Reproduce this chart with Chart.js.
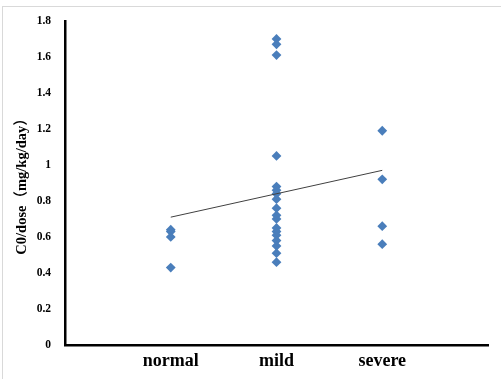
<!DOCTYPE html>
<html>
<head>
<meta charset="utf-8">
<script src="https://cdn.jsdelivr.net/npm/chart.js@4/dist/chart.umd.min.js"></script>
<style>
  html, body { margin: 0; padding: 0; background: #fff; }
  #wrap { position: relative; width: 501px; height: 379px; overflow: hidden; }
  #frame { position: absolute; left: 2px; top: 6px; width: 520px; height: 400px; border: 1px solid #d9d9d9; box-sizing: border-box; }
  canvas { position: absolute; left: 0; top: 0; }
</style>
</head>
<body>
<div id="wrap">
  <div id="frame"></div>
  <canvas id="chart" width="501" height="379"></canvas>
</div>
<script>
// 1. DATA
const categories = ['normal', 'mild', 'severe'];
const normalValues = [0.64, 0.63, 0.60, 0.43];
const mildValues = [1.70, 1.67, 1.61, 1.05, 0.88, 0.86, 0.84, 0.81, 0.76, 0.72, 0.70,
                    0.65, 0.63, 0.61, 0.58, 0.55, 0.51, 0.46];
const severeValues = [1.19, 0.92, 0.66, 0.56];
const trendValues = [0.71, 0.97];   // trendline at normal and severe
const yTicks = [0, 0.2, 0.4, 0.6, 0.8, 1, 1.2, 1.4, 1.6, 1.8];

// 2. BUILD POINTS
const groups = [normalValues, mildValues, severeValues];
const points = [];
groups.forEach((vals, i) => {
  vals.forEach(v => points.push({ x: i + 1, y: v }));
});
const trendPoints = [{ x: 1, y: trendValues[0] }, { x: 3, y: trendValues[1] }];

const serif = "'Liberation Serif', 'Times New Roman', 'Noto Sans CJK SC', serif";
const blue = '#4a7ebb';

new Chart(document.getElementById('chart').getContext('2d'), {
  type: 'scatter',
  data: {
    datasets: [
      {
        data: points,
        pointStyle: 'rectRot',
        pointRadius: 4.9,
        backgroundColor: blue,
        borderColor: blue,
        borderWidth: 0,
        order: 2
      },
      {
        type: 'line',
        data: trendPoints,
        borderColor: '#404040',
        borderWidth: 1,
        pointRadius: 0,
        fill: false,
        order: 1
      }
    ]
  },
  options: {
    responsive: false,
    animation: false,
    layout: { padding: { top: 19, right: 13, bottom: 0, left: 0 } },
    plugins: { legend: { display: false }, tooltip: { enabled: false } },
    scales: {
      x: {
        type: 'linear',
        min: 0,
        max: 4,
        afterBuildTicks: s => { s.ticks = categories.map((c, i) => ({ value: i + 1 })); },
        afterFit: s => { s.height = 34; },
        grid: { display: false, drawTicks: false },
        border: { display: true, color: '#000', width: 2.5 },
        ticks: {
          callback: v => categories[v - 1] || '',
          color: '#000',
          padding: 6,
          maxRotation: 0,
          autoSkip: false,
          font: { family: serif, size: 18, weight: 'bold' }
        }
      },
      y: {
        min: 0,
        max: 1.8,
        afterBuildTicks: s => { s.ticks = yTicks.map(v => ({ value: v })); },
        afterFit: s => { s.width = 65; },
        grid: { display: false, drawTicks: false },
        border: { display: true, color: '#000', width: 2.5 },
        title: {
          display: true,
          text: 'C0/dose（mg/kg/day）',
          color: '#000',
          padding: { top: 14, bottom: 0 },
          font: { family: serif, size: 14.5, weight: 'bold' }
        },
        ticks: {
          callback: v => String(Math.round(v * 10) / 10),
          color: '#000',
          padding: 14,
          font: { family: serif, size: 11.5, weight: 'bold' }
        }
      }
    }
  }
});
</script>
</body>
</html>
